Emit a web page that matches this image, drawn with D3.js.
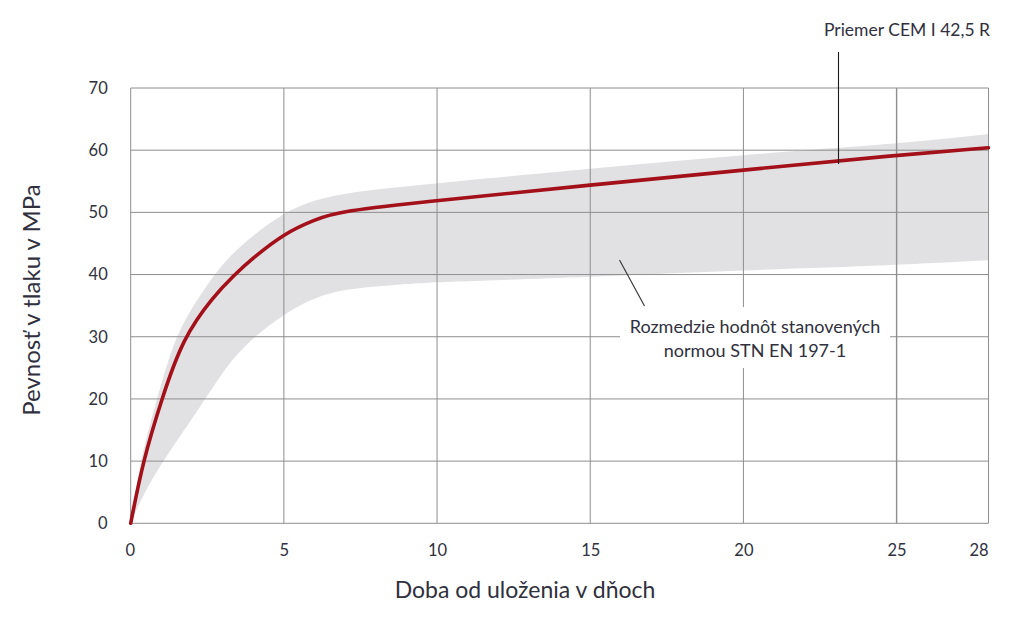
<!DOCTYPE html>
<html>
<head>
<meta charset="utf-8">
<script src="https://cdn.jsdelivr.net/npm/d3@7"></script>
<style>
  html, body { margin: 0; padding: 0; background: #fff; }
  svg { display: block; }
  text { font-family: Lato, "Open Sans", "Noto Sans", sans-serif; fill: #30303e; }
</style>
</head>
<body>
<svg id="chart" width="1024" height="620"></svg>
<script>
// ---- data ----
const xTicks = [0, 5, 10, 15, 20, 25, 28];
const yTicks = [0, 10, 20, 30, 40, 50, 60, 70];

// band of values given by STN EN 197-1 (days, lower MPa, upper MPa)
const bandDays  = [0, 0.3, 0.8, 1.4, 2.1, 2.7, 3.2, 3.9, 5, 6, 7, 8.8, 10, 15, 20, 25, 28];
const bandLower = [0, 3.5, 8, 12.5, 17.5, 22, 25.7, 29.5, 33.7, 36.3, 37.7, 38.4, 38.8, 39.6, 40.7, 41.5, 42.3];
const bandUpper = [0, 10, 19, 29.5, 35.5, 39.8, 42.8, 46, 50, 52, 53.1, 54.1, 54.7, 57, 59.3, 61, 62.6];

// average CEM I 42,5 R
const meanDays  = [0, 0.4, 1.0, 1.7, 2.7, 3.4, 3.9, 5, 6, 6.8, 10, 15, 20, 25, 28];
const meanValue = [0, 10, 19.8, 29.8, 36.5, 40, 42.3, 46.6, 48.8, 50.2, 51.9, 54.4, 56.8, 59.2, 60.4];

const xTitle = "Doba od uloženia v dňoch";
const yTitle = "Pevnosť v tlaku v MPa";
const meanLabel = "Priemer CEM I 42,5 R";
const bandLabel = ["Rozmedzie hodnôt stanovených", "normou STN EN 197-1"];

// ---- drawing ----
const svg = d3.select("#chart");
const x = d3.scaleLinear().domain([0, 28]).range([130.7, 988.5]);
const y = d3.scaleLinear().domain([0, 70]).range([523.3, 88]);

const bandData = bandDays.map((d, i) => ({ d, lo: bandLower[i], hi: bandUpper[i] }));
const meanData = meanDays.map((d, i) => ({ d, v: meanValue[i] }));

// band
svg.append("path")
  .datum(bandData)
  .attr("fill", "#e1e1e3")
  .attr("d", d3.area().curve(d3.curveBasis)
    .x(p => x(p.d)).y0(p => y(p.lo)).y1(p => y(p.hi)));

// grid
const gridColor = "#8e8e8e";
const g = svg.append("g");
g.selectAll("line.v").data([0, 5, 10, 15, 20, 25, 28]).join("line")
  .attr("x1", d => x(d)).attr("x2", d => x(d))
  .attr("y1", y(0)).attr("y2", y(70))
  .attr("stroke", gridColor).attr("stroke-width", d => d === 25 ? 1.4 : 1);
g.selectAll("line.h").data(yTicks).join("line")
  .attr("x1", x(0)).attr("x2", x(28))
  .attr("y1", d => y(d)).attr("y2", d => y(d))
  .attr("stroke", gridColor).attr("stroke-width", 1);

// axes (labels only)
const xAxis = svg.append("g").attr("transform", `translate(0,${y(0)})`)
  .call(d3.axisBottom(x).tickValues(xTicks).tickSize(0).tickPadding(21).tickFormat(d3.format("d")));
xAxis.select(".domain").remove();
xAxis.selectAll("text").style("font-size", "16.5px").attr("fill", "#30303e")
  .attr("dx", d => d === 28 ? "-10px" : d === 0 ? "-1px" : "0px");

const yAxis = svg.append("g").attr("transform", `translate(${x(0)},0)`)
  .call(d3.axisLeft(y).tickValues(yTicks).tickSize(0).tickPadding(23).tickFormat(d3.format("d")));
yAxis.select(".domain").remove();
yAxis.selectAll("text").style("font-size", "16.5px").attr("fill", "#30303e");

// band annotation: white box, leader, text
svg.append("rect").attr("x", 620).attr("y", 307).attr("width", 270).attr("height", 61).attr("fill", "#fff");
svg.append("line").attr("x1", 619.5).attr("y1", 260).attr("x2", 644.5).attr("y2", 306)
  .attr("stroke", "#3a3a3a").attr("stroke-width", 1.2);
svg.append("text").attr("x", 755).attr("y", 333).attr("text-anchor", "middle")
  .style("font-size", "18px").text(bandLabel[0]);
svg.append("text").attr("x", 755).attr("y", 357).attr("text-anchor", "middle")
  .style("font-size", "18px").text(bandLabel[1]);

// mean curve
svg.append("path")
  .datum(meanData)
  .attr("fill", "none")
  .attr("stroke", "#a3101a")
  .attr("stroke-width", 3.6)
  .attr("stroke-linecap", "round")
  .attr("stroke-linejoin", "round")
  .attr("d", d3.line().curve(d3.curveBasis).x(p => x(p.d)).y(p => y(p.v)));

// mean annotation
svg.append("line").attr("x1", 838.5).attr("x2", 838.5).attr("y1", 52).attr("y2", 164)
  .attr("stroke", "#1a1a1a").attr("stroke-width", 1.1);
svg.append("text").attr("x", 990).attr("y", 36).attr("text-anchor", "end")
  .style("font-size", "17.5px").text(meanLabel);

// axis titles
svg.append("text").attr("x", 525).attr("y", 598).attr("text-anchor", "middle")
  .style("font-size", "23px").text(xTitle);
svg.append("text").attr("transform", "translate(40,300) rotate(-90)").attr("text-anchor", "middle")
  .style("font-size", "24px").text(yTitle);
</script>
</body>
</html>
